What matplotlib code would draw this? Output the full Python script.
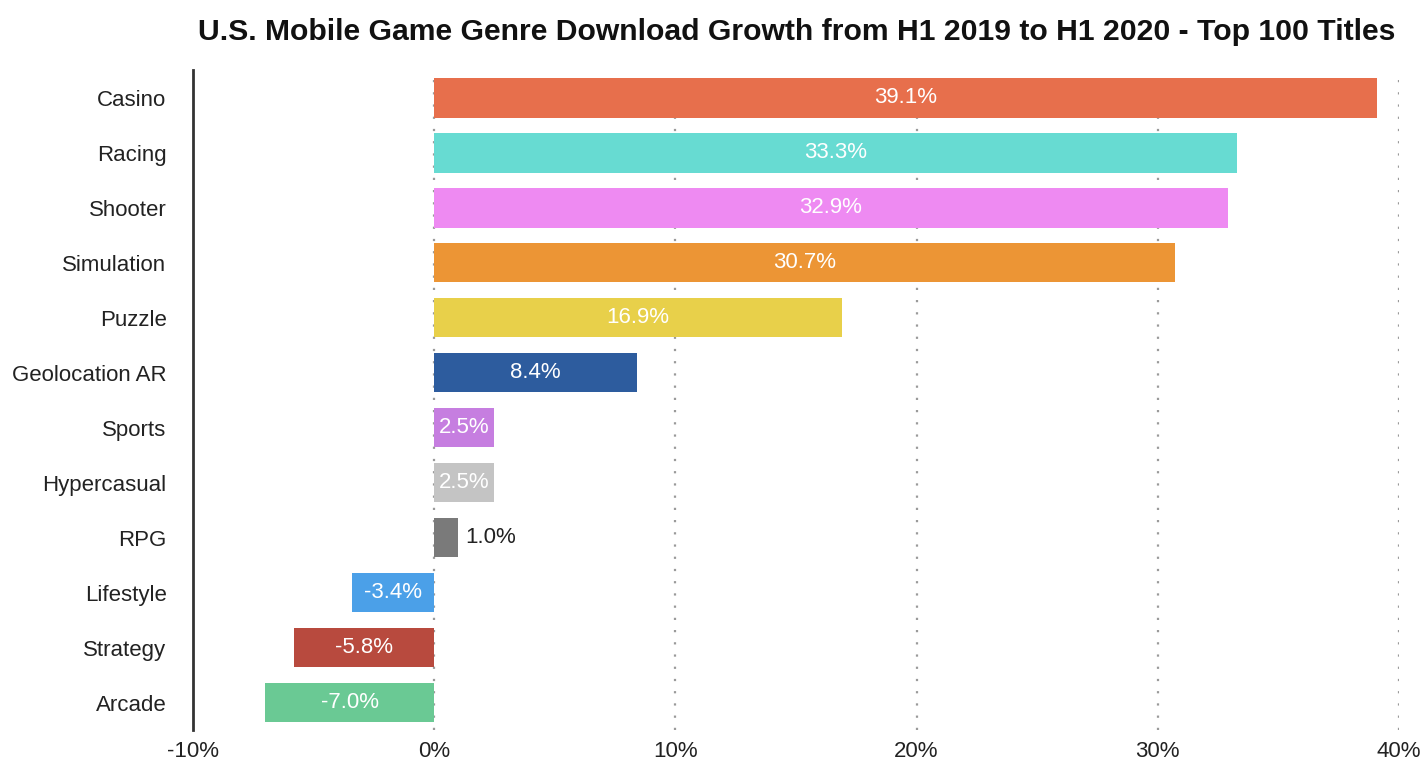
import matplotlib.pyplot as plt
import numpy as np

plt.rcParams['font.family'] = ['Liberation Sans', 'DejaVu Sans']

genres = ["Casino", "Racing", "Shooter", "Simulation", "Puzzle", "Geolocation AR",
          "Sports", "Hypercasual", "RPG", "Lifestyle", "Strategy", "Arcade"]
growth = [39.1, 33.3, 32.9, 30.7, 16.9, 8.4, 2.5, 2.5, 1.0, -3.4, -5.8, -7.0]
colors = ["#E76F4C", "#67DBD2", "#EE8AF2", "#EC9535", "#E8D04A", "#2D5C9E",
          "#C67EE0", "#C4C4C4", "#7A7A7A", "#4BA0E8", "#B84A3E", "#6AC994"]
xticks = [-10, 0, 10, 20, 30, 40]

fig = plt.figure(figsize=(14.26, 7.64), dpi=100)
ax = fig.add_axes([0.1353, 0.0445, 0.8458, 0.8635])

y = np.arange(len(genres))
bars = ax.barh(y, growth, height=0.72, color=colors, zorder=2)

# value labels: inside the bar, except the tiny RPG one
for bar, v in zip(bars, growth):
    cy = bar.get_y() + bar.get_height() / 2
    if abs(v) < 2:
        ax.text(v + 0.3, cy, f"{v:.1f}%", ha='left', va='center',
                color='#222222', fontsize=16)
    else:
        ax.text(v / 2, cy, f"{v:.1f}%", ha='center', va='center',
                color='white', fontsize=16)

ax.set_xlim(-10, 40)
ax.set_ylim(len(genres) - 0.5, -0.5)
ax.set_yticks(y)
ax.set_yticklabels(genres, fontsize=16, color='#222222')
ax.set_xticks(xticks)
ax.set_xticklabels([f"{t}%" for t in xticks], fontsize=16, color='#222222')
ax.tick_params(length=0)
ax.tick_params(axis='x', pad=8)
ax.tick_params(axis='y', pad=19)

for t in xticks[1:]:
    ax.axvline(t, color='#9a9a9a', lw=1.6, ls=(0, (1, 4.5)), zorder=1)

for s in ['top', 'right', 'bottom']:
    ax.spines[s].set_visible(False)
ax.spines['left'].set_color('#333333')
ax.spines['left'].set_linewidth(2)

fig.text(0.559, 0.958, "U.S. Mobile Game Genre Download Growth from H1 2019 to H1 2020 - Top 100 Titles",
         ha='center', va='center', fontsize=21.7, fontweight='bold', color='#111111')

fig.savefig("out.png", dpi=100)
